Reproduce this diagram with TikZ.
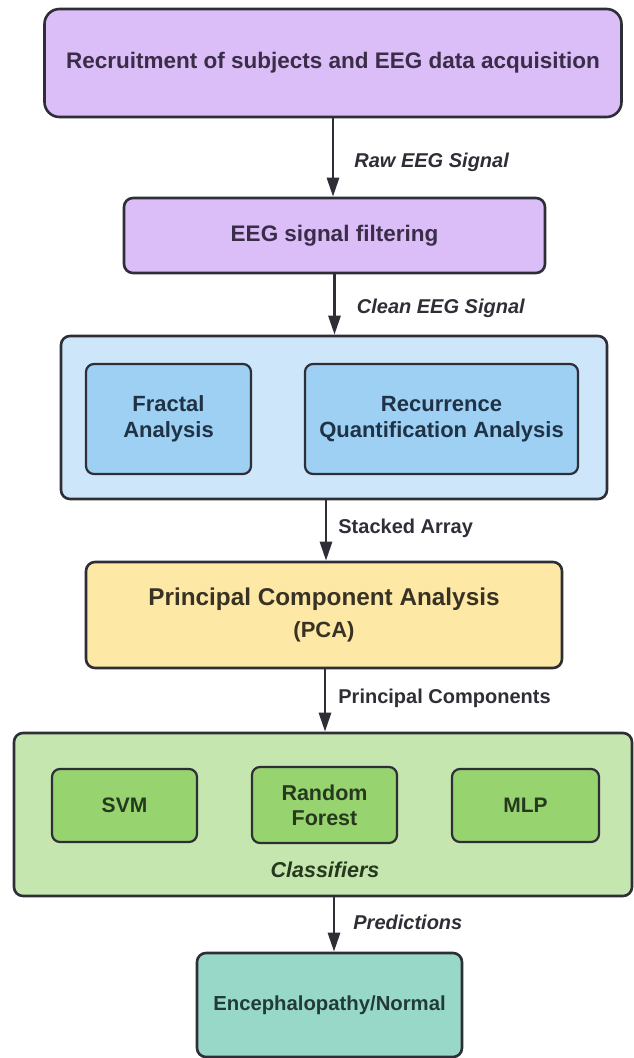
\documentclass[tikz,border=0pt]{standalone}
\usepackage{fontspec}
\setmainfont{Liberation Sans}
\usepackage{xcolor}
\usepackage{tikz}
\usetikzlibrary{arrows.meta,positioning,calc}
\definecolor{lilac}{HTML}{DBBDF7}
\definecolor{skyout}{HTML}{CDE6FA}
\definecolor{skyin}{HTML}{9DD0F2}
\definecolor{sand}{HTML}{FDE8A6}
\definecolor{leafout}{HTML}{C6E6AF}
\definecolor{leafin}{HTML}{97D46F}
\definecolor{teal}{HTML}{98D8C8}
\definecolor{ink}{HTML}{2E2E36}
\definecolor{plumtxt}{HTML}{3A2D48}
\definecolor{navytxt}{HTML}{1F3246}
\definecolor{mosstxt}{HTML}{26391E}
\definecolor{pinetxt}{HTML}{213B37}
\definecolor{sandtxt}{HTML}{383224}
\newcommand{\sz}[1]{\fontsize{#1}{26}\selectfont}

\begin{document}
\begin{tikzpicture}[
  x=1pt, y=-1pt,
  font=\bfseries,
  box/.style={draw=ink, line width=2.6pt, rounded corners=9pt, align=center, inner sep=0pt},
  sub/.style={box, line width=2.2pt, rounded corners=8pt},
  purp/.style={box, fill=lilac, text=plumtxt},
  blue/.style={sub, fill=skyin, text=navytxt},
  grn/.style={sub, fill=leafin, text=mosstxt},
  lbl/.style={inner sep=0pt, text=ink, font=\bfseries\sz{20}},
  arr/.style={-{Triangle[length=19pt, width=12pt]}, line width=2.8pt, draw=ink}
]
\useasboundingbox (0,0) rectangle (633,1058);
% input stages
\node[purp, rounded corners=15pt, minimum width=577pt, minimum height=108pt, font=\bfseries\sz{22.5}] (rec) at (333,63) {Recruitment of subjects and EEG data acquisition};
\node[purp, minimum width=421pt, minimum height=75pt, font=\bfseries\sz{22.5}] (filt) at (334.5,235.5) {EEG signal filtering};
% feature extraction
\node[box, fill=skyout, minimum width=546pt, minimum height=163pt] (feat) at (334,417.5) {};
\node[blue, minimum width=165pt, minimum height=110pt, font=\bfseries\sz{22}] (frac) at (168.5,419) {Fractal\\Analysis};
\node[blue, minimum width=273pt, minimum height=110pt, font=\bfseries\sz{22}] (rqa) at (441.5,419) {Recurrence\\Quantification Analysis};
% reduction
\node[box, fill=sand, text=sandtxt, minimum width=476pt, minimum height=106pt, font=\bfseries\fontsize{24.3}{32}\selectfont] (pca) at (324,615) {Principal Component Analysis\\{\fontsize{22}{32}\selectfont(PCA)}};
% classifiers
\node[box, fill=leafout, minimum width=618pt, minimum height=163pt] (cls) at (323,814.5) {};
\node[grn, minimum width=145pt, minimum height=73pt, font=\bfseries\sz{21}] (svm) at (124.5,805.5) {SVM};
\node[grn, minimum width=145pt, minimum height=76pt, font=\bfseries\fontsize{21.5}{25}\selectfont] (rf) at (324.5,805) {Random\\Forest};
\node[grn, minimum width=147pt, minimum height=73pt, font=\bfseries\sz{21}] (mlp) at (525.5,805.5) {MLP};
\node[inner sep=0pt, text=mosstxt, font=\bfseries\itshape\sz{21.5}] (clsname) at (325,870) {Classifiers};
% output
\node[box, fill=teal, text=pinetxt, minimum width=265pt, minimum height=104pt, font=\bfseries\sz{20.3}] (out) at (329.5,1005) {Encephalopathy/Normal};
\draw[arr] (rec.south) -- node[lbl, pos=0.56, right=20pt, font=\bfseries\itshape\sz{20}] {Raw EEG Signal} (rec.south |- filt.north);
\draw[arr] (filt.south) -- node[lbl, pos=0.56, right=21pt, font=\bfseries\itshape\sz{20}] {Clean EEG Signal} (filt.south |- feat.north);
\draw[arr] ([xshift=2pt]pca.north |- feat.south) -- node[lbl, pos=0.46, right=11pt] {Stacked Array} ([xshift=2pt]pca.north);
\draw[arr] ([xshift=1pt]pca.south) -- node[lbl, pos=0.46, right=12pt] {Principal Components} ([xshift=1pt]pca.south |- cls.north);
\draw[arr] ([xshift=4.5pt]out.north |- cls.south) -- node[lbl, pos=0.46, right=18pt, font=\bfseries\itshape\sz{20}] {Predictions} ([xshift=4.5pt]out.north);
\end{tikzpicture}
\end{document}
